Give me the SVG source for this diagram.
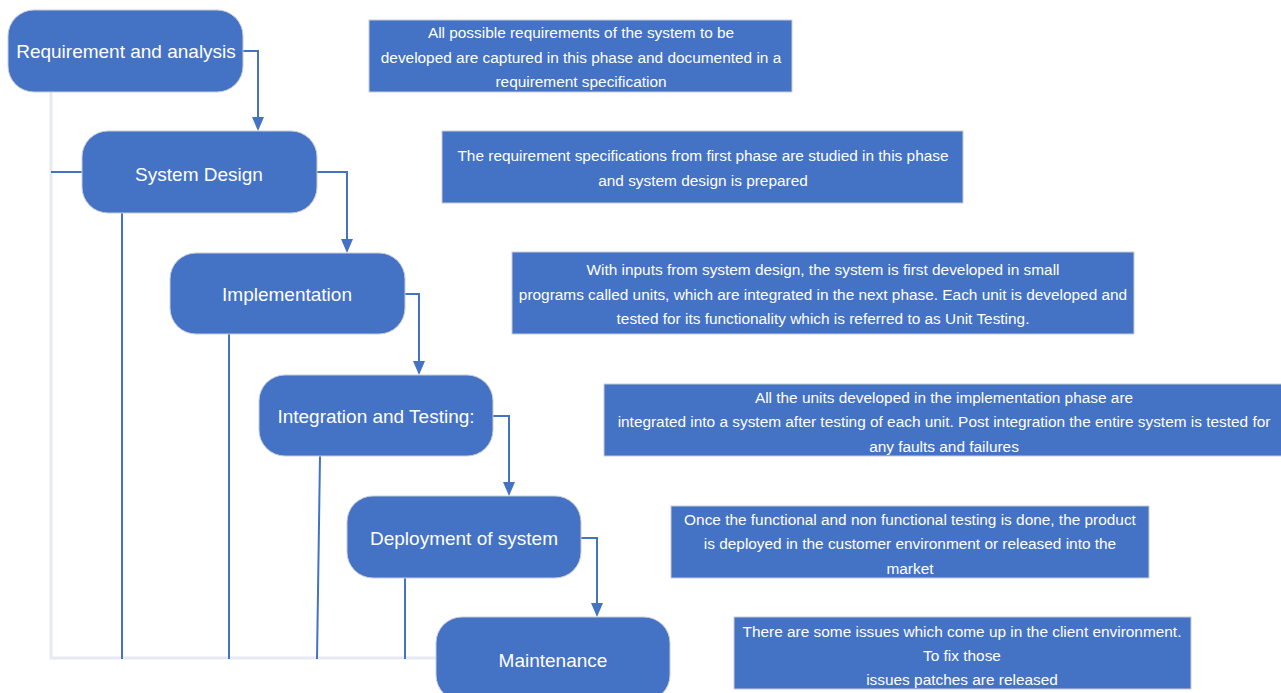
<svg xmlns="http://www.w3.org/2000/svg" width="1281" height="693" viewBox="0 0 1281 693">
<defs>
<style>
.node{fill:#4472C4;stroke:#C9CCD6;stroke-width:1}
.box{fill:#4472C4;stroke:#C9CCD6;stroke-width:1}
.nt{font-family:"Liberation Sans",Arial,sans-serif;font-size:19px;fill:#FFFFFF;text-anchor:middle;dominant-baseline:central}
.bt{font-family:"Liberation Sans",Arial,sans-serif;font-size:15.4px;fill:#FFFFFF;text-anchor:middle;dominant-baseline:central}
.c{fill:none;stroke:#4472C4;stroke-width:2}
.g{fill:none;stroke:#E6E9F4;stroke-width:3}
.ah{fill:#4472C4}
</style>
</defs>
<rect width="1281" height="693" fill="#FFFFFF"/>
<g id="connectors">
<polyline class="g" points="51,92 51,658 436,658"/>
<line class="c" x1="51" y1="172" x2="82" y2="172"/>
<line class="c" x1="122" y1="213" x2="122" y2="659"/>
<line class="c" x1="229" y1="334" x2="229" y2="659"/>
<line class="c" x1="320" y1="456" x2="317" y2="659"/>
<line class="c" x1="405" y1="578" x2="405" y2="659"/>
<polyline class="c" points="243,51 258,51 258,118"/>
<path class="ah" d="M252,117 L264,117 L258,131 Z"/>
<polyline class="c" points="317,172 347,172 347,240"/>
<path class="ah" d="M341,239 L353,239 L347,253 Z"/>
<polyline class="c" points="405,294 419,294 419,362"/>
<path class="ah" d="M413,361 L425,361 L419,375 Z"/>
<polyline class="c" points="493,416 509,416 509,483"/>
<path class="ah" d="M503,482 L515,482 L509,496 Z"/>
<polyline class="c" points="581,538 597,538 597,604"/>
<path class="ah" d="M591,603 L603,603 L597,617 Z"/>
</g>
<g id="n1"><rect class="node" x="8" y="10" width="235" height="82" rx="26"/><text class="nt" x="126" y="51">Requirement and analysis</text></g>
<g id="n2"><rect class="node" x="82" y="131" width="235" height="82" rx="26"/><text class="nt" x="199" y="174">System Design</text></g>
<g id="n3"><rect class="node" x="170" y="253" width="235" height="81" rx="26"/><text class="nt" x="287" y="294">Implementation</text></g>
<g id="n4"><rect class="node" x="259" y="375" width="234" height="81" rx="26"/><text class="nt" x="376" y="416">Integration and Testing:</text></g>
<g id="n5"><rect class="node" x="347" y="496" width="234" height="82" rx="26"/><text class="nt" x="464" y="538">Deployment of system</text></g>
<g id="n6"><rect class="node" x="436" y="617" width="234" height="84" rx="26"/><text class="nt" x="553" y="660">Maintenance</text></g>
<g id="b1"><rect class="box" x="369" y="20" width="423" height="72"/>
<text class="bt" x="581" y="32">All possible requirements of the system to be</text>
<text class="bt" x="581" y="57">developed are captured in this phase and documented in a</text>
<text class="bt" x="581" y="81">requirement specification</text></g>
<g id="b2"><rect class="box" x="442" y="131" width="521" height="72"/>
<text class="bt" x="703" y="155">The requirement specifications from first phase are studied in this phase</text>
<text class="bt" x="703" y="180">and system design is prepared</text></g>
<g id="b3"><rect class="box" x="512" y="252" width="622" height="82"/>
<text class="bt" x="823" y="269">With inputs from system design, the system is first developed in small</text>
<text class="bt" x="823" y="294">programs called units, which are integrated in the next phase. Each unit is developed and</text>
<text class="bt" x="823" y="318">tested for its functionality which is referred to as Unit Testing.</text></g>
<g id="b4"><rect class="box" x="604" y="384" width="680" height="72"/>
<text class="bt" x="944" y="397">All the units developed in the implementation phase are</text>
<text class="bt" x="944" y="421">integrated into a system after testing of each unit. Post integration the entire system is tested for</text>
<text class="bt" x="944" y="446">any faults and failures</text></g>
<g id="b5"><rect class="box" x="671" y="506" width="478" height="72"/>
<text class="bt" x="910" y="519">Once the functional and non functional testing is done, the product</text>
<text class="bt" x="910" y="543">is deployed in the customer environment or released into the</text>
<text class="bt" x="910" y="568">market</text></g>
<g id="b6"><rect class="box" x="734" y="617" width="457" height="72"/>
<text class="bt" x="962" y="631">There are some issues which come up in the client environment.</text>
<text class="bt" x="962" y="655">To fix those</text>
<text class="bt" x="962" y="679">issues patches are released</text></g>
</svg>
